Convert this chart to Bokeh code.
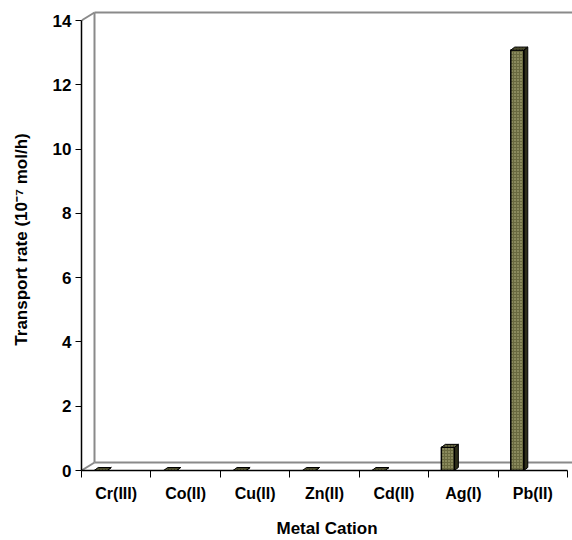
from bokeh.plotting import figure
from bokeh.models import Range1d, FixedTicker, CustomJSTickFormatter
from bokeh.embed import file_html
from bokeh.resources import INLINE

categories = ["Cr(III)", "Co(II)", "Cu(II)", "Zn(II)", "Cd(II)", "Ag(I)", "Pb(II)"]
rates = [0.0, 0.0, 0.0, 0.0, 0.0, 0.72, 13.08]
y_ticks = [0, 2, 4, 6, 8, 10, 12, 14]

# pixel scale helpers (layout only)
FRAME_W, FRAME_H = 491, 462
PX_X = 486 / 7.0
PX_Y = 450 / 14.0
x_end = FRAME_W / PX_X
y_end = FRAME_H / PX_Y
ymax = y_ticks[-1]
ncat = len(categories)

p = figure(frame_width=FRAME_W, frame_height=FRAME_H,
           x_range=Range1d(0, x_end), y_range=Range1d(0, y_end),
           output_backend="svg", toolbar_location=None,
           min_border_left=81, min_border_right=0, min_border_top=8, min_border_bottom=70)
p.outline_line_color = None
p.xgrid.visible = False
p.ygrid.visible = False
p.background_fill_color = "white"
p.border_fill_color = "white"

# back wall / floor (3D depth)
wdx = 13 / PX_X
wdy = 8 / PX_Y
wall_col = "#8a8a8a"
p.segment(x0=[wdx, 0, 0, wdx, wdx], y0=[wdy, ymax, 0, wdy, ymax + wdy],
          x1=[wdx, wdx, wdx, x_end, x_end], y1=[ymax + wdy, ymax + wdy, wdy, wdy, ymax + wdy],
          line_color=wall_col, line_width=2)

# bars
bw = 13 / PX_X
boff = -15.5 / PX_X
ddx = 4 / PX_X
ddy = 3 / PX_Y
centers = [i + 0.5 for i in range(ncat)]
lefts = [c + boff - bw / 2 for c in centers]
rights = [l + bw for l in lefts]

tops_x, tops_y, sides_x, sides_y = [], [], [], []
for l, r, v in zip(lefts, rights, rates):
    tops_x.append([l, r, r + ddx, l + ddx])
    tops_y.append([v, v, v + ddy, v + ddy])
    sides_x.append([r, r + ddx, r + ddx, r])
    sides_y.append([0, ddy, v + ddy, v])

p.patches(sides_x, sides_y, fill_color="#2e2e1a", line_color="black", line_width=1)
p.quad(left=lefts, right=rights, bottom=[0] * ncat, top=rates,
       fill_color="#6a6a40", hatch_pattern="dot", hatch_color="#b9b98a",
       hatch_scale=3, hatch_weight=1, line_color="black", line_width=1.5)
p.patches(tops_x, tops_y, fill_color="#4a4a2c", hatch_pattern="dot", hatch_color="#9a9a6a",
          hatch_scale=3, line_color="black", line_width=1)

# axes
font = "Liberation Sans"
p.yaxis.bounds = (0, ymax)
p.yaxis.ticker = FixedTicker(ticks=y_ticks)
p.yaxis.major_tick_out = 6
p.yaxis.major_tick_in = 0
p.yaxis.minor_tick_line_color = None
p.yaxis.axis_line_color = "black"
p.yaxis.axis_line_width = 1.5
p.yaxis.major_label_text_font = font
p.yaxis.major_label_text_font_style = "bold"
p.yaxis.major_label_text_font_size = "17px"
p.yaxis.major_label_text_color = "black"
p.yaxis.major_label_standoff = 4
p.yaxis.axis_label = "Transport rate (10\u207b\u2077 mol/h)"
p.yaxis.axis_label_text_font = font
p.yaxis.axis_label_text_font_style = "bold"
p.yaxis.axis_label_text_font_size = "17px"
p.yaxis.axis_label_text_color = "black"
p.yaxis.axis_label_standoff = 19

p.xaxis.bounds = (0, ncat)
p.xaxis.ticker = FixedTicker(ticks=centers, minor_ticks=list(range(ncat + 1)))
p.xaxis.formatter = CustomJSTickFormatter(args=dict(cats=categories),
                                          code="return cats[Math.floor(tick)] || '';")
p.xaxis.major_tick_out = 0
p.xaxis.major_tick_in = 0
p.xaxis.minor_tick_out = 7
p.xaxis.minor_tick_in = 0
p.xaxis.minor_tick_line_color = "black"
p.xaxis.axis_line_color = "black"
p.xaxis.axis_line_width = 1.5
p.xaxis.major_label_text_font = font
p.xaxis.major_label_text_font_style = "bold"
p.xaxis.major_label_text_font_size = "16px"
p.xaxis.major_label_text_color = "black"
p.xaxis.major_label_standoff = 7
p.xaxis.axis_label = "Metal Cation"
p.xaxis.axis_label_text_font = font
p.xaxis.axis_label_text_font_style = "bold"
p.xaxis.axis_label_text_font_size = "17px"
p.xaxis.axis_label_text_color = "black"
p.xaxis.axis_label_standoff = 14

open("out.html", "w").write(file_html(p, INLINE))
